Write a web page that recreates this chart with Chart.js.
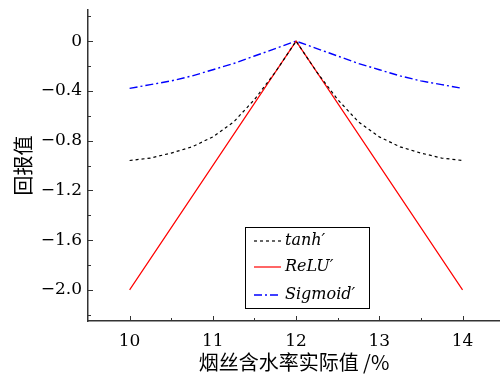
<!DOCTYPE html>
<html>
<head>
<meta charset="utf-8">
<script src="https://cdn.jsdelivr.net/npm/chart.js@4"></script>
<style>
  html, body { margin: 0; padding: 0; background: #fff; }
  #wrap { width: 500px; height: 381px; }
</style>
</head>
<body>
<div id="wrap"><canvas id="rewardChart"></canvas></div>
<script>
// data
const moisture = [10, 10.25, 10.5, 10.75, 11, 11.25, 11.5, 11.75, 12, 12.25, 12.5, 12.75, 13, 13.25, 13.5, 13.75, 14];
const tanhValues = [-0.96, -0.94, -0.9, -0.85, -0.77, -0.65, -0.47, -0.25, 0, -0.25, -0.47, -0.65, -0.77, -0.85, -0.9, -0.94, -0.96];
const sigmoidValues = [-0.38, -0.35, -0.32, -0.28, -0.23, -0.18, -0.12, -0.06, 0, -0.06, -0.12, -0.18, -0.23, -0.28, -0.32, -0.35, -0.38];
const reluX = [10, 12, 14];
const reluValues = [-2.0, 0, -2.0];

const xTicks = [10, 11, 12, 13, 14];
const xMinor = [10.5, 11.5, 12.5, 13.5];
const yTicks = [0, -0.4, -0.8, -1.2, -1.6, -2.0];
const yTickLabels = ['0', '\u22120.4', '\u22120.8', '\u22121.2', '\u22121.6', '\u22122.0'];
const yMinor = [0.2, -0.2, -0.6, -1.0, -1.4, -1.8, -2.2];
const legendLabels = ['tanh\u2032', 'ReLU\u2032', 'Sigmoid\u2032'];

const serif = 'DejaVu Serif';
const cjk = 'Noto Sans CJK SC';
const axisColor = '#333';

const toPoints = (xs, ys) => xs.map((x, i) => ({ x: x, y: ys[i] }));

// tick marks drawn inward, like the original plot
const innerTicks = {
  id: 'innerTicks',
  afterDraw(chart) {
    const { ctx, scales: { x, y }, chartArea } = chart;
    ctx.save();
    ctx.strokeStyle = axisColor;
    ctx.lineWidth = 1;
    const tickX = (vals, len) => vals.forEach(v => {
      const px = Math.round(x.getPixelForValue(v)) + 0.5;
      ctx.beginPath();
      ctx.moveTo(px, chartArea.bottom);
      ctx.lineTo(px, chartArea.bottom - len);
      ctx.stroke();
    });
    const tickY = (vals, len) => vals.forEach(v => {
      const py = Math.round(y.getPixelForValue(v)) + 0.5;
      ctx.beginPath();
      ctx.moveTo(chartArea.left, py);
      ctx.lineTo(chartArea.left + len, py);
      ctx.stroke();
    });
    tickX(xTicks, 5);
    tickX(xMinor, 3);
    tickY(yTicks, 5);
    tickY(yMinor, 3);
    ctx.restore();
  }
};

// boxed legend inside the plot
const boxLegend = {
  id: 'boxLegend',
  afterDraw(chart) {
    const ctx = chart.ctx;
    const left = 245, top = 227, w = 124, h = 81;
    const rows = [241, 267, 295];
    ctx.save();
    ctx.fillStyle = '#fff';
    ctx.fillRect(left, top, w, h);
    ctx.strokeStyle = '#000';
    ctx.lineWidth = 1;
    ctx.strokeRect(left + 0.5, top + 0.5, w, h);
    chart.data.datasets.forEach((ds, i) => {
      ctx.strokeStyle = ds.borderColor;
      ctx.lineWidth = ds.borderWidth;
      ctx.setLineDash(ds.borderDash || []);
      ctx.beginPath();
      ctx.moveTo(254, rows[i]);
      ctx.lineTo(281, rows[i]);
      ctx.stroke();
      ctx.setLineDash([]);
      ctx.fillStyle = '#000';
      ctx.font = 'italic 16px ' + serif;
      ctx.textBaseline = 'middle';
      ctx.fillText(legendLabels[i], 285, rows[i]);
    });
    ctx.restore();
  }
};

const ctx = document.getElementById('rewardChart').getContext('2d');
new Chart(ctx, {
  type: 'line',
  data: {
    datasets: [
      {
        label: legendLabels[0],
        data: toPoints(moisture, tanhValues),
        borderColor: '#000',
        borderWidth: 1.2,
        borderDash: [3, 3],
        pointRadius: 0,
        tension: 0
      },
      {
        label: legendLabels[1],
        data: toPoints(reluX, reluValues),
        borderColor: '#ff0000',
        borderWidth: 1.2,
        pointRadius: 0
      },
      {
        label: legendLabels[2],
        data: toPoints(moisture, sigmoidValues),
        borderColor: '#0000ff',
        borderWidth: 1.4,
        borderDash: [8, 3, 2, 3],
        pointRadius: 0,
        tension: 0
      }
    ]
  },
  options: {
    responsive: true,
    maintainAspectRatio: false,
    animation: false,
    layout: { padding: { top: 10, right: 0, left: 0, bottom: 0 } },
    plugins: {
      legend: { display: false },
      tooltip: { enabled: false }
    },
    scales: {
      x: {
        type: 'linear',
        min: 9.5,
        max: 14.45,
        afterBuildTicks: s => { s.ticks = xTicks.map(v => ({ value: v })); },
        afterFit: s => { s.height = 60; s.paddingLeft = 0; s.paddingRight = 0; },
        grid: { display: false, drawTicks: false },
        border: { display: true, color: axisColor, width: 1.5 },
        ticks: {
          color: '#000',
          padding: 10,
          maxRotation: 0,
          autoSkip: false,
          font: { family: serif, size: 17 },
          callback: v => String(v)
        },
        title: {
          display: true,
          text: '烟丝含水率实际值 /%',
          color: '#000',
          font: { family: cjk, size: 20 },
          padding: { top: 0, bottom: 7 }
        }
      },
      y: {
        min: -2.25,
        max: 0.25,
        afterBuildTicks: s => { s.ticks = yTicks.map(v => ({ value: v })); },
        afterFit: s => { s.width = 88; s.paddingTop = 0; s.paddingBottom = 0; },
        grid: { display: false, drawTicks: false },
        border: { display: true, color: axisColor, width: 1.5 },
        ticks: {
          color: '#000',
          padding: 6,
          autoSkip: false,
          font: { family: serif, size: 17 },
          callback: (v, i) => yTickLabels[i]
        },
        title: {
          display: true,
          text: '回报值',
          color: '#000',
          font: { family: cjk, size: 20 },
          padding: { top: 11, bottom: 0 }
        }
      }
    }
  },
  plugins: [innerTicks, boxLegend]
});
</script>
</body>
</html>
